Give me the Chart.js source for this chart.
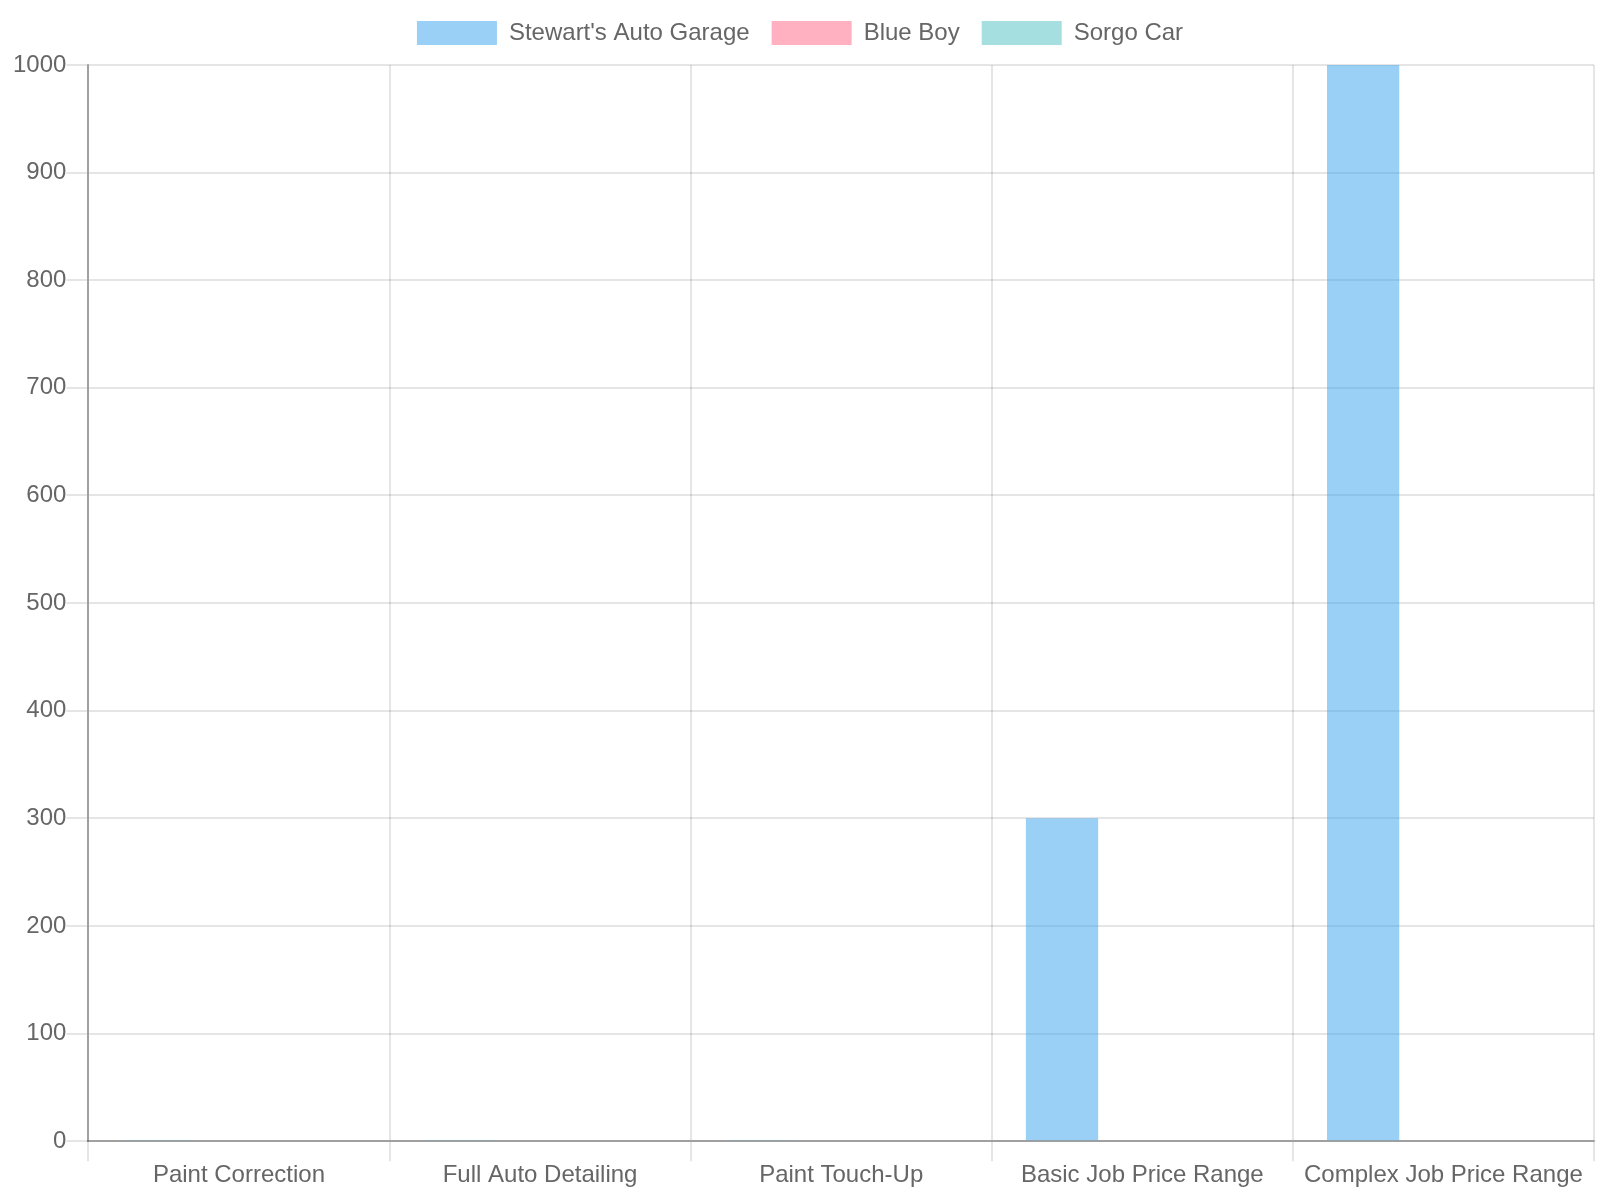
<!DOCTYPE html>
<html>
<head>
<meta charset="utf-8">
<script src="https://cdn.jsdelivr.net/npm/chart.js@4/dist/chart.umd.min.js"></script>
<style>
  html, body { margin: 0; padding: 0; background: #fff; }
  #wrap { width: 1600px; height: 1200px; }
</style>
</head>
<body>
<div id="wrap"><canvas id="myChart" width="1600" height="1200"></canvas></div>
<script>
// data
var services = ["Paint Correction", "Full Auto Detailing", "Paint Touch-Up", "Basic Job Price Range", "Complex Job Price Range"];
var stewarts = [1, 1, 1, 300, 1000];
var blueBoy = [0, 0, 0, 0, 0];
var sorgoCar = [0, 0, 0, 0, 0];
var yTicks = [0, 100, 200, 300, 400, 500, 600, 700, 800, 900, 1000];

Chart.defaults.font.family = "'Liberation Sans', Arial, sans-serif";
Chart.defaults.font.size = 24;
Chart.defaults.color = '#666';

// a bit more room under the legend, and keep it centred on the page
var legendTweak = {
    id: 'legendTweak',
    beforeInit: function (chart) {
        var fit = chart.legend.fit;
        chart.legend.fit = function () {
            fit.bind(chart.legend)();
            this.height += 8;
        };
    },
    beforeDraw: function (chart) {
        chart.legend.left = 0;
        chart.legend.right = chart.width;
        chart.legend.top = -1;
    }
};

var ctx = document.getElementById('myChart').getContext('2d');
var chart = new Chart(ctx, {
    type: 'bar',
    data: {
        labels: services,
        datasets: [{
            label: "Stewart's Auto Garage",
            backgroundColor: 'rgba(54,162,235,0.5)',
            data: stewarts
        }, {
            label: "Blue Boy",
            backgroundColor: 'rgba(255,99,132,0.5)',
            data: blueBoy
        }, {
            label: "Sorgo Car",
            backgroundColor: 'rgba(75,192,192,0.5)',
            data: sorgoCar
        }]
    },
    plugins: [legendTweak],
    options: {
        responsive: false,
        animation: false,
        devicePixelRatio: 1,
        layout: { padding: { left: 13, right: 6, top: 1, bottom: 10 } },
        plugins: {
            legend: {
                position: 'top',
                labels: { boxWidth: 80, boxHeight: 24, padding: 22 }
            },
            tooltip: { enabled: false }
        },
        scales: {
            x: {
                grid: { color: 'rgba(0,0,0,0.1)', lineWidth: 2, tickLength: 20, offset: true },
                border: { color: 'rgba(0,0,0,0.3)', width: 2 },
                ticks: { padding: 0 }
            },
            y: {
                min: yTicks[0],
                max: yTicks[yTicks.length - 1],
                afterBuildTicks: function (axis) {
                    axis.ticks = yTicks.map(function (v) { return { value: v }; });
                },
                grid: { color: 'rgba(0,0,0,0.1)', lineWidth: 2, tickLength: 22 },
                border: { color: 'rgba(0,0,0,0.3)', width: 2 },
                ticks: {
                    padding: 0,
                    callback: function (v) { return String(v); }
                }
            }
        }
    }
});
</script>
</body>
</html>
